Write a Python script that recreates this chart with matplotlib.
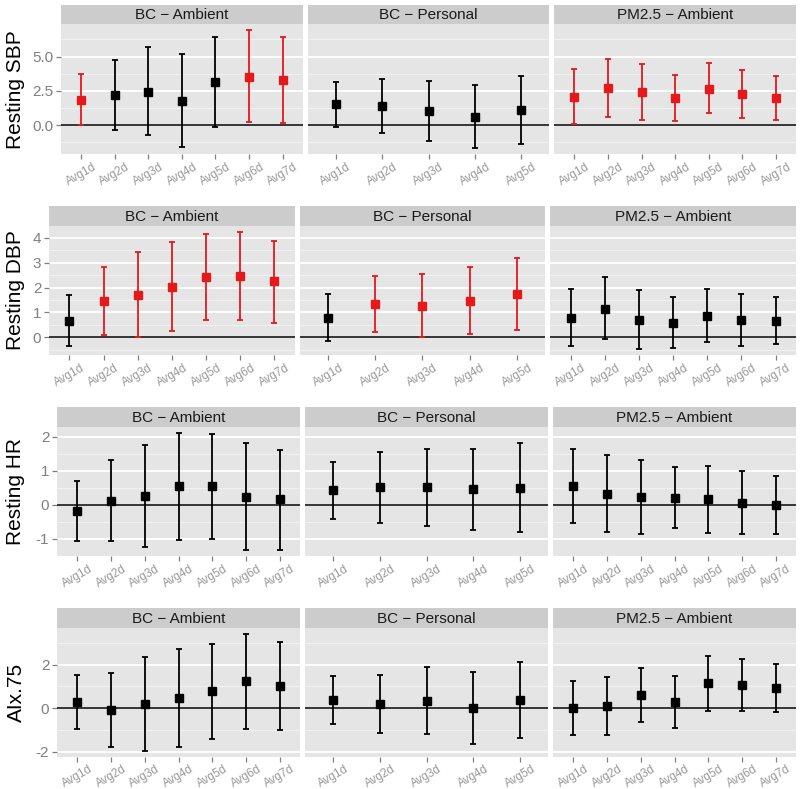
import numpy as np
import matplotlib.pyplot as plt

plt.rcParams['font.family'] = ['Liberation Sans', 'DejaVu Sans']

# facets and lag labels
exposures = ['BC − Ambient', 'BC − Personal', 'PM2.5 − Ambient']
lags7 = ['Avg1d', 'Avg2d', 'Avg3d', 'Avg4d', 'Avg5d', 'Avg6d', 'Avg7d']
lags5 = lags7[:5]
lag_sets = [lags7, lags5, lags7]

# Resting SBP
sbp_est = [[1.85, 2.21, 2.45, 1.79, 3.13, 3.54, 3.30],
           [1.53, 1.41, 1.04, 0.63, 1.12],
           [2.08, 2.74, 2.45, 2.01, 2.67, 2.26, 2.01]]
sbp_lo = [[0.0, -0.34, -0.73, -1.58, -0.12, 0.22, 0.15],
          [-0.10, -0.58, -1.14, -1.68, -1.38],
          [0.10, 0.58, 0.41, 0.34, 0.87, 0.53, 0.39]]
sbp_hi = [[3.74, 4.76, 5.70, 5.20, 6.43, 6.92, 6.41],
          [3.16, 3.37, 3.25, 2.94, 3.62],
          [4.10, 4.85, 4.49, 3.69, 4.52, 4.05, 3.62]]
sbp_red = [[1, 0, 0, 0, 0, 1, 1],
           [0, 0, 0, 0, 0],
           [1, 1, 1, 1, 1, 1, 1]]

# Resting DBP
dbp_est = [[0.67, 1.44, 1.71, 2.03, 2.43, 2.47, 2.25],
           [0.78, 1.32, 1.27, 1.47, 1.73],
           [0.79, 1.15, 0.71, 0.59, 0.87, 0.68, 0.67]]
dbp_lo = [[-0.35, 0.08, 0.0, 0.24, 0.70, 0.70, 0.59],
          [-0.15, 0.19, 0.0, 0.13, 0.29],
          [-0.37, -0.09, -0.48, -0.43, -0.21, -0.35, -0.28]]
dbp_hi = [[1.69, 2.81, 3.42, 3.83, 4.17, 4.24, 3.89],
          [1.73, 2.47, 2.54, 2.82, 3.20],
          [1.95, 2.42, 1.90, 1.61, 1.95, 1.73, 1.63]]
dbp_red = [[0, 1, 1, 1, 1, 1, 1],
           [0, 1, 1, 1, 1],
           [0, 0, 0, 0, 0, 0, 0]]

# Resting HR
hr_est = [[-0.19, 0.12, 0.25, 0.55, 0.55, 0.24, 0.17],
          [0.43, 0.52, 0.53, 0.46, 0.51],
          [0.56, 0.33, 0.22, 0.21, 0.17, 0.06, -0.01]]
hr_lo = [[-1.06, -1.07, -1.24, -1.02, -0.99, -1.33, -1.32],
         [-0.41, -0.52, -0.61, -0.74, -0.80],
         [-0.54, -0.81, -0.86, -0.68, -0.82, -0.87, -0.86]]
hr_hi = [[0.69, 1.32, 1.77, 2.13, 2.10, 1.82, 1.62],
         [1.27, 1.55, 1.66, 1.66, 1.81],
         [1.65, 1.47, 1.31, 1.12, 1.14, 1.00, 0.86]]
hr_red = [[0] * 7, [0] * 5, [0] * 7]

# AIx.75
aix_est = [[0.29, -0.08, 0.18, 0.45, 0.77, 1.24, 1.02],
           [0.36, 0.18, 0.35, 0.0, 0.38],
           [0.02, 0.09, 0.61, 0.27, 1.14, 1.08, 0.92]]
aix_lo = [[-0.95, -1.76, -1.94, -1.77, -1.39, -0.94, -1.00],
          [-0.73, -1.15, -1.20, -1.64, -1.35],
          [-1.21, -1.21, -0.64, -0.91, -0.12, -0.12, -0.17]]
aix_hi = [[1.52, 1.62, 2.35, 2.70, 2.94, 3.42, 3.05],
          [1.47, 1.53, 1.89, 1.64, 2.11],
          [1.24, 1.41, 1.86, 1.47, 2.41, 2.26, 2.03]]
aix_red = [[0] * 7, [0] * 5, [0] * 7]

outcomes = ['Resting SBP', 'Resting DBP', 'Resting HR', 'AIx.75']
row_data = [(sbp_est, sbp_lo, sbp_hi, sbp_red),
            (dbp_est, dbp_lo, dbp_hi, dbp_red),
            (hr_est, hr_lo, hr_hi, hr_red),
            (aix_est, aix_lo, aix_hi, aix_red)]
major_ticks = [[0, 2.5, 5.0], [0, 1, 2, 3, 4], [-1, 0, 1, 2], [-2, 0, 2]]
tick_fmt = ['{:.1f}', '{:g}', '{:g}', '{:g}']

W, H = 800, 789
# (panel left, strip top, strip bottom, panel bottom) in pixels
rows_px = [(61, 4.5, 24.3, 154.3),
           (49, 205.7, 226.0, 355.0),
           (57, 406.7, 426.7, 556.0),
           (57, 607.7, 627.7, 756.5)]
right_px, gap_px = 796, 5

RED = '#E3191C'
fig = plt.figure(figsize=(W / 100, H / 100), dpi=100)

for r, (left, st, sb, pb) in enumerate(rows_px):
    est, lo, hi, red = row_data[r]
    ymin = min(min(v) for v in lo)
    ymax = max(max(v) for v in hi)
    pad = 0.05 * (ymax - ymin)
    ylim = (ymin - pad, ymax + pad)
    majors = major_ticks[r]
    step = majors[1] - majors[0]
    minors = np.arange(majors[0] - step * 2.5, majors[-1] + step * 2.5, step)
    minors = [m for m in minors if ylim[0] < m < ylim[1]]

    pw = (right_px - left - 2 * gap_px) / 3
    for c in range(3):
        x0 = left + c * (pw + gap_px)
        ax = fig.add_axes([x0 / W, 1 - pb / H, pw / W, (pb - sb) / H])
        sax = fig.add_axes([x0 / W, 1 - sb / H, pw / W, (sb - st) / H])
        sax.set_facecolor('#CCCCCC')
        sax.set_xticks([])
        sax.set_yticks([])
        for s in sax.spines.values():
            s.set_visible(False)
        sax.text(0.5, 0.45, exposures[c], ha='center', va='center',
                 fontsize=11, color='#1A1A1A', transform=sax.transAxes)

        ax.set_facecolor('#E5E5E5')
        for s in ax.spines.values():
            s.set_visible(False)
        labels = lag_sets[c]
        n = len(labels)
        xs = np.arange(1, n + 1)
        ax.set_xlim(0.4, n + 0.6)
        ax.set_ylim(*ylim)
        ax.set_yticks(majors)
        ax.set_yticks(minors, minor=True)
        ax.grid(which='major', axis='y', color='white', lw=1.3)
        ax.grid(which='minor', axis='y', color='#F2F2F2', lw=0.7)
        ax.set_axisbelow(True)
        ax.axhline(0, color='black', lw=1.1, zorder=2)

        e = np.array(est[c]); l = np.array(lo[c]); h = np.array(hi[c])
        for i in range(n):
            col = RED if red[c][i] else 'black'
            ax.errorbar(xs[i], e[i], yerr=[[e[i] - l[i]], [h[i] - e[i]]],
                        fmt='s', color=col, ms=5.5, elinewidth=1.3,
                        capsize=2.3, capthick=1.3, zorder=3)

        ax.set_xticks(xs)
        ax.set_xticklabels(labels, rotation=30, ha='center', va='top',
                           fontsize=8.5, color='#999999')
        ax.tick_params(axis='x', which='major', pad=1.5)
        ax.tick_params(axis='both', which='major', length=3.5, width=0.9,
                       color='#7F7F7F')
        ax.tick_params(axis='y', which='major', pad=2)
        ax.tick_params(axis='y', which='minor', length=0)
        if c == 0:
            ax.set_yticklabels([tick_fmt[r].format(v) for v in majors],
                               fontsize=11, color='#7F7F7F')
        else:
            ax.set_yticklabels([])
            ax.tick_params(axis='y', which='major', length=0)

    fig.text(16 / W, 1 - (sb + pb) / 2 / H, outcomes[r], rotation=90,
             ha='center', va='center', fontsize=15, color='black')

fig.savefig('out.png', dpi=100)
